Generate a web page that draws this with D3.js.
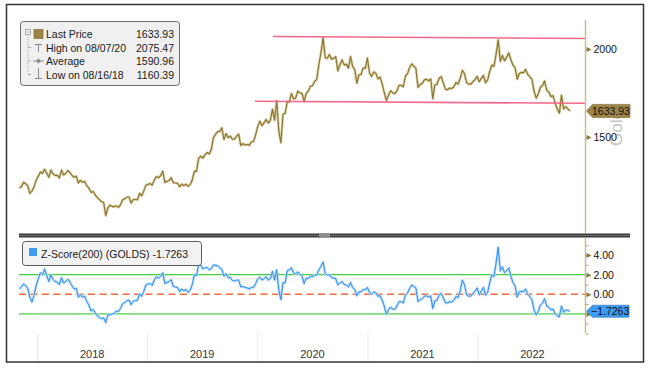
<!DOCTYPE html>
<html>
<head>
<meta charset="utf-8">
<script src="https://cdn.jsdelivr.net/npm/d3@7"></script>
<style>
  body { margin: 0; background: #fff; }
  svg { display: block; font-family: "Liberation Sans", Arial, sans-serif; }
</style>
</head>
<body>
<svg id="chart" width="650" height="370"></svg>
<script>
// weekly (Friday) observations, 2017-11-03 .. 2022-11-04
const firstWeek = "2017-11-03";
const lastWeek = "2022-11-05";

const gold2017 = [1270, 1275, 1294, 1288, 1280, 1248, 1257, 1275, 1303];
const gold2018 = [
  1320, 1338, 1332, 1350,
  1333, 1315, 1347, 1330,
  1323, 1324, 1313, 1347, 1325,
  1332, 1345, 1336, 1323,
  1315, 1320, 1291, 1302,
  1294, 1298, 1279, 1270, 1252,
  1256, 1241, 1231, 1223,
  1214, 1211, 1160.39, 1190, 1201,
  1196, 1194, 1199, 1192,
  1203, 1222, 1226, 1233,
  1233, 1209, 1223, 1223, 1222,
  1248, 1238, 1258, 1281
];
const gold2019 = [
  1285, 1289, 1282, 1304,
  1318, 1314, 1322, 1342,
  1293, 1298, 1302, 1313, 1292,
  1291, 1290, 1275, 1286,
  1280, 1286, 1277, 1284, 1305,
  1341, 1341, 1399, 1409,
  1400, 1415, 1426, 1419,
  1440, 1497, 1513, 1527, 1528,
  1546, 1488, 1517, 1497,
  1505, 1489, 1490, 1505,
  1514, 1459, 1468, 1462, 1464,
  1460, 1476, 1478, 1510
];
const gold2020 = [
  1552, 1580, 1557, 1571, 1589,
  1570, 1584, 1643, 1585,
  1690, 1530, 1472, 1617,
  1620, 1683, 1683, 1729,
  1700, 1703, 1743, 1734, 1730,
  1684, 1730, 1743, 1771,
  1774, 1799, 1810, 1902, 1975,
  2075.47, 1944, 1940, 1964,
  1934, 1940, 1950, 1862,
  1900, 1930, 1899, 1902, 1879,
  1951, 1889, 1871, 1788,
  1839, 1840, 1881, 1877
];
const gold2021 = [
  1942, 1849, 1828, 1856, 1847,
  1814, 1824, 1784, 1734,
  1690, 1720, 1745, 1733,
  1728, 1744, 1777, 1777, 1768,
  1831, 1844, 1881, 1905,
  1891, 1877, 1764, 1781,
  1787, 1808, 1812, 1802, 1814,
  1700, 1780, 1781, 1818,
  1827, 1788, 1754, 1751,
  1761, 1757, 1768, 1793, 1783,
  1818, 1865, 1846, 1792,
  1783, 1783, 1798, 1809, 1829
];
const gold2022 = [
  1797, 1817, 1835, 1791,
  1808, 1859, 1898, 1889,
  1967, 2060, 1921, 1958,
  1925, 1946, 1975, 1932, 1897,
  1883, 1812, 1846, 1853,
  1851, 1871, 1840, 1827,
  1811, 1742, 1703, 1727, 1766,
  1775, 1802, 1747, 1738,
  1712, 1717, 1675, 1644, 1622,
  1720, 1644, 1657, 1645,
  1633.93
];

const z2017 = [0.55, 0.75, 1.05, 0.9, 0.6, -0.3, -0.8, -0.1, 0.9];
const z2018 = [
  1.6, 2.2, 2.0, 2.6,
  1.9, 1.3, 2.0, 1.5,
  1.3, 1.25, 1.0, 1.7, 1.15,
  1.3, 1.55, 1.25, 0.85,
  0.55, 0.6, -0.3, -0.05,
  -0.3, -0.2, -0.75, -1.1, -1.7,
  -1.55, -1.9, -2.2, -2.35,
  -2.5, -2.4, -2.9, -2.1, -2.1,
  -2.0, -1.95, -1.7, -1.75,
  -1.45, -0.95, -0.85, -0.65,
  -0.6, -1.05, -0.7, -0.65, -0.6,
  0.05, -0.2, 0.3, 0.95
];
const z2019 = [
  1.05, 1.1, 0.9, 1.45,
  1.8, 1.65, 1.85, 2.2,
  1.1, 1.2, 1.3, 1.5, 0.8,
  0.75, 0.7, 0.25, 0.55,
  0.35, 0.5, 0.2, 0.4, 1.0,
  2.0, 1.9, 3.0, 3.0,
  2.6, 2.7, 2.75, 2.5,
  2.6, 3.0, 2.95, 2.9, 2.7,
  2.55, 1.85, 2.1, 1.7,
  1.7, 1.4, 1.35, 1.45,
  1.45, 0.75, 0.8, 0.7, 0.65,
  0.55, 0.7, 0.7, 1.1
];
const z2020 = [
  1.55, 1.75, 1.45, 1.6, 1.8,
  1.45, 1.6, 2.35, 1.45,
  2.5, 0.45, -0.55, 1.2,
  1.15, 2.4, 2.5, 2.7,
  2.2, 2.05, 2.3, 2.05, 1.85,
  1.1, 1.65, 1.6, 1.85,
  1.8, 1.95, 1.95, 2.5, 2.85,
  3.3, 2.1, 1.95, 2.0,
  1.7, 1.65, 1.6, 0.95,
  1.15, 1.3, 1.0, 0.95, 0.75,
  1.2, 0.7, 0.5, -0.15,
  0.25, 0.25, 0.5, 0.45
];
const z2021 = [
  0.7, 0.2, 0.0, 0.25, 0.15,
  -0.2, -0.15, -0.6, -1.2,
  -2.05, -1.6, -1.3, -1.5,
  -1.55, -1.2, -0.75, -0.75, -0.9,
  -0.1, 0.1, 0.6, 0.95,
  0.8, 0.65, -0.75, -0.55,
  -0.45, -0.2, -0.15, -0.3, -0.15,
  -1.45, -0.65, -0.6, -0.05,
  0.1, -0.35, -0.85, -0.9,
  -0.75, -0.8, -0.6, -0.2, -0.35,
  0.35, 1.45, 1.0, -0.05,
  -0.2, -0.2, 0.1, 0.3, 0.65
];
const z2022 = [
  -0.05, 0.35, 0.7, -0.1,
  0.2, 1.2, 2.0, 1.8,
  3.2, 4.8, 2.4, 2.8,
  2.2, 2.4, 2.7, 1.85, 1.2,
  0.85, -0.3, 0.25, 0.3,
  0.25, 0.55, 0.0, -0.25,
  -0.55, -1.6, -2.1, -1.75, -1.1,
  -0.9, -0.45, -1.2, -1.3,
  -1.6, -1.5, -2.0, -2.2, -2.3,
  -1.2, -1.85, -1.6, -1.65,
  -1.7263
];

const goldPrice = [].concat(gold2017, gold2018, gold2019, gold2020, gold2021, gold2022);
const zScore = [].concat(z2017, z2018, z2019, z2020, z2021, z2022);

// channel lines drawn on the price panel
const trendUpper = [["2020-02-23", 2083], ["2022-12-24", 2070]];
const trendLower = [["2019-12-25", 1686], ["2022-12-24", 1675]];

const priceTicks = [1500, 2000];
const zTicks = [4, 2, 0];
const zMarkerTicks = [4, 2, 0, -2];
const zMinorTicks = [-4, -3, -2, -1, 0, 1, 2, 3, 4, 5];
const zBands = [2, -2];
const zMid = 0;
const years = ["2018", "2019", "2020", "2021", "2022"];

const legendRows = [
  ["Last Price", "1633.93"],
  ["High on 08/07/20", "2075.47"],
  ["Average", "1590.96"],
  ["Low on 08/16/18", "1160.39"]
];
const zLegendText = "Z-Score(200) (GOLDS) -1.7263";
const lastPrice = 1633.93;
const lastZ = -1.7263;

const parse = d3.utcParse("%Y-%m-%d");
const dates = d3.utcFriday.range(parse(firstWeek), parse(lastWeek));
const rows = dates.map((d, i) => ({ date: d, price: goldPrice[i], z: zScore[i] }))
  .filter((r) => r.price != null && r.z != null);

const svg = d3.select("#chart");

const axisX = 585.5;
const x = d3.scaleUtc()
  .domain([parse("2017-11-02"), parse("2022-12-24")])
  .range([19, 585]);
const yPrice = d3.scaleLog().domain([1100, 2257]).range([232, 12]);
const yZ = d3.scaleLinear().domain([-4, 5]).range([333.5, 245.3]);

const gold = "#8a7530";
const blue = "#2f8ff0";

// outer frame
svg.append("rect")
  .attr("x", 6.5).attr("y", 4.5)
  .attr("width", 637).attr("height", 357.5)
  .attr("fill", "none").attr("stroke", "#333").attr("stroke-width", 1.5);

// ---------- price panel ----------
svg.append("text")
  .attr("transform", "translate(622,146) rotate(-90)")
  .attr("font-size", "17px")
  .attr("fill", "#c4c4c4")
  .text("Gold");

const priceLine = d3.line().x((d) => x(d.date)).y((d) => yPrice(d.price));
svg.append("path").datum(rows)
  .attr("d", priceLine).attr("fill", "none")
  .attr("stroke", "#d9cfa3").attr("stroke-width", 2.6).attr("stroke-linejoin", "round");
svg.append("path").datum(rows)
  .attr("d", priceLine).attr("fill", "none")
  .attr("stroke", gold).attr("stroke-width", 1.1).attr("stroke-linejoin", "round");

const trendLine = d3.line().x((d) => x(parse(d[0]))).y((d) => yPrice(d[1]));
[trendUpper, trendLower].forEach((t) => {
  svg.append("path").datum(t)
    .attr("d", trendLine).attr("fill", "none")
    .attr("stroke", "#f2688a").attr("stroke-width", 1.6);
});

// right axis line
svg.append("line")
  .attr("x1", axisX).attr("x2", axisX).attr("y1", 20).attr("y2", 233)
  .attr("stroke", "#cbbb8d").attr("stroke-width", 1.5);

const priceAxis = svg.append("g")
  .attr("transform", `translate(${axisX},0)`)
  .call(d3.axisRight(yPrice).tickValues(priceTicks).tickFormat(d3.format("d")).tickSize(0).tickPadding(8));
priceAxis.select(".domain").remove();
priceAxis.selectAll("text").attr("font-size", "10.5px").attr("fill", "#111").attr("font-family", "Liberation Sans, Arial");
priceAxis.selectAll(".tick").append("path")
  .attr("d", "M1,-2.5L6,0L1,2.5Z").attr("fill", "#8b7a3a");

// last price marker
const lp = yPrice(lastPrice);
svg.append("path")
  .attr("d", `M${axisX + 1},${lp} L${axisX + 7},${lp - 6.5} H630 V${lp + 6.5} H${axisX + 7} Z`)
  .attr("fill", "#9c8545").attr("stroke", "#6e5f2c").attr("stroke-width", 0.6);
svg.append("text")
  .attr("x", 592).attr("y", lp).attr("dy", "0.35em")
  .attr("font-size", "10.5px").attr("fill", "#111")
  .text(legendRows[0][1]);

// legend (price)
const lg = svg.append("g");
lg.append("rect")
  .attr("x", 20.5).attr("y", 21.5).attr("width", 159).attr("height", 64).attr("rx", 3)
  .attr("fill", "#f0f0f0").attr("stroke", "#6c6c6c");
lg.append("rect").attr("x", 25.5).attr("y", 29.5).attr("width", 5).attr("height", 5)
  .attr("fill", "#fff").attr("stroke", "#999").attr("stroke-width", 0.8);
lg.append("line").attr("x1", 26.5).attr("x2", 29.5).attr("y1", 32).attr("y2", 32).attr("stroke", "#999");
lg.append("line").attr("x1", 28).attr("x2", 28).attr("y1", 35).attr("y2", 75)
  .attr("stroke", "#aaa").attr("stroke-dasharray", "1,1");
legendRows.forEach((r, i) => {
  const base = 38 + i * 13.5;
  const cy = base - 4;
  if (i > 0) {
    lg.append("line").attr("x1", 28).attr("x2", 31).attr("y1", cy).attr("y2", cy)
      .attr("stroke", "#aaa");
  }
  lg.append("text").attr("x", 46).attr("y", base)
    .attr("font-size", "10.5px").attr("fill", "#1a1a1a").text(r[0]);
  lg.append("text").attr("x", 174).attr("y", base).attr("text-anchor", "end")
    .attr("font-size", "10.5px").attr("fill", "#1a1a1a").text(r[1]);
});
lg.append("rect").attr("x", 34).attr("y", 29.5).attr("width", 9).attr("height", 9)
  .attr("fill", "#9c8545").attr("stroke", "#76662f").attr("stroke-width", 0.6);
const iconC = "#8a8a8a";
lg.append("path").attr("d", "M35,44.5H42M38.5,44.5V52").attr("stroke", iconC).attr("fill", "none");
lg.append("path").attr("d", "M33,61H44").attr("stroke", iconC).attr("fill", "none");
lg.append("path").attr("d", "M38.5,58.5L41,61L38.5,63.5L36,61Z").attr("fill", iconC);
lg.append("path").attr("d", "M38.5,68V78.5M35,78.5H42").attr("stroke", iconC).attr("fill", "none");

// ---------- panel separator ----------
svg.append("rect").attr("x", 19).attr("y", 233.5).attr("width", 611).attr("height", 4).attr("fill", "#3a3a3a");
svg.append("rect").attr("x", 19).attr("y", 235).attr("width", 611).attr("height", 1).attr("fill", "#707070");
svg.append("rect").attr("x", 319).attr("y", 233.5).attr("width", 11).attr("height", 4).attr("fill", "#8e8e8e");

// ---------- z-score panel ----------
zBands.forEach((b, i) => {
  svg.append("line")
    .attr("x1", x.range()[0]).attr("x2", axisX)
    .attr("y1", yZ(b)).attr("y2", yZ(b))
    .attr("stroke", i === 0 ? "#3fcc3f" : "#7fdc7f").attr("stroke-width", i === 0 ? 1.2 : 1.8);
});
svg.append("line")
  .attr("x1", x.range()[0]).attr("x2", axisX)
  .attr("y1", yZ(zMid)).attr("y2", yZ(zMid))
  .attr("stroke", "#f26a3d").attr("stroke-width", 1.5).attr("stroke-dasharray", "7,4.5");

const zLine = d3.line().x((d) => x(d.date)).y((d) => yZ(d.z));
svg.append("path").datum(rows)
  .attr("d", zLine).attr("fill", "none")
  .attr("stroke", "#b9dbff").attr("stroke-width", 2.6).attr("stroke-linejoin", "round");
svg.append("path").datum(rows)
  .attr("d", zLine).attr("fill", "none")
  .attr("stroke", blue).attr("stroke-width", 1).attr("stroke-linejoin", "round");

svg.append("line")
  .attr("x1", axisX).attr("x2", axisX).attr("y1", 238).attr("y2", 333)
  .attr("stroke", "#cbbb8d").attr("stroke-width", 1.5);

const zMinor = svg.append("g")
  .attr("transform", `translate(${axisX},0)`)
  .call(d3.axisRight(yZ).tickValues(zMinorTicks).tickSize(3).tickFormat(""));
zMinor.select(".domain").remove();
zMinor.selectAll("line").attr("stroke", "#b8a875");

const zMarks = svg.append("g")
  .attr("transform", `translate(${axisX},0)`)
  .call(d3.axisRight(yZ).tickValues(zMarkerTicks).tickSize(0).tickFormat(""));
zMarks.select(".domain").remove();
zMarks.selectAll(".tick").append("path")
  .attr("d", "M1,-2.5L6,0L1,2.5Z").attr("fill", "#8b7a3a");

const zAxis = svg.append("g")
  .attr("transform", `translate(${axisX},0)`)
  .call(d3.axisRight(yZ).tickValues(zTicks).tickFormat(d3.format(".2f")).tickSize(0).tickPadding(8));
zAxis.select(".domain").remove();
zAxis.selectAll("text").attr("font-size", "10.5px").attr("fill", "#111").attr("font-family", "Liberation Sans, Arial");

// last z marker
const lz = yZ(lastZ);
svg.append("path")
  .attr("d", `M${axisX + 1},${lz} L${axisX + 7},${lz - 6} H629 V${lz + 6} H${axisX + 7} Z`)
  .attr("fill", "#3d9cf2").attr("stroke", "#2570b8").attr("stroke-width", 0.6);
svg.append("text")
  .attr("x", 591).attr("y", lz).attr("dy", "0.35em")
  .attr("font-size", "10.5px").attr("fill", "#111")
  .text(d3.format(".4f")(lastZ).replace("-", "\u2212"));

// legend (z-score)
const zl = svg.append("g");
zl.append("rect")
  .attr("x", 22.5).attr("y", 241.5).attr("width", 179).attr("height", 24).attr("rx", 3)
  .attr("fill", "#f2f2f2").attr("stroke", "#5c5c5c");
zl.append("rect").attr("x", 29).attr("y", 248).attr("width", 8).attr("height", 8)
  .attr("fill", "#3d9cf2");
zl.append("text").attr("x", 41).attr("y", 257.5)
  .attr("font-size", "10.5px").attr("fill", "#1a1a1a").text(zLegendText);

// ---------- time axis ----------
const yearStarts = years.map((y) => parse(`${y}-01-01`));
const yearMids = years.map((y) => parse(`${y}-07-01`));

const grid = svg.append("g")
  .attr("transform", "translate(0,333)")
  .call(d3.axisBottom(x).tickValues(yearStarts).tickSize(28).tickFormat(""));
grid.select(".domain").remove();
grid.selectAll("line").attr("stroke", "#ececec");

const xAxis = svg.append("g")
  .attr("transform", "translate(0,347)")
  .call(d3.axisBottom(x).tickValues(yearMids).tickSize(0).tickPadding(3).tickFormat(d3.utcFormat("%Y")));
xAxis.select(".domain").remove();
xAxis.selectAll("text").attr("font-size", "11px").attr("fill", "#333").attr("font-family", "Liberation Sans, Arial");
</script>
</body>
</html>
